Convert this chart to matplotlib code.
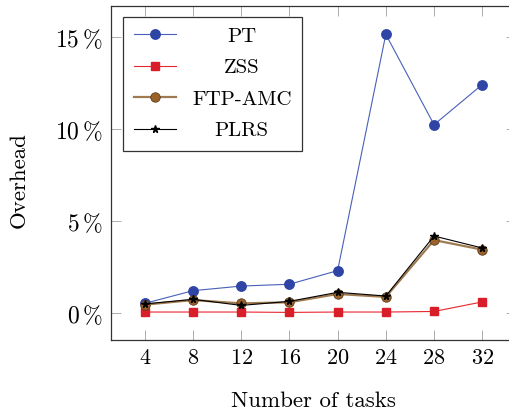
import numpy as np
import matplotlib
matplotlib.use("Agg")
import matplotlib.pyplot as plt
from matplotlib.ticker import FixedLocator, FixedFormatter

plt.rcParams.update({
    "font.family": "cmr10",
    "mathtext.fontset": "cm",
    "axes.formatter.use_mathtext": True,
    "font.size": 16,
})

# ── Data ───────────────────────────────────────────────────────
tasks = [4, 8, 12, 16, 20, 24, 28, 32]
pt = [0.54, 1.23, 1.48, 1.58, 2.32, 15.16, 10.25, 12.43]
zss = [0.07, 0.07, 0.07, 0.05, 0.07, 0.07, 0.10, 0.62]
ftp_amc = [0.47, 0.72, 0.54, 0.60, 1.05, 0.89, 3.98, 3.46]
plrs = [0.51, 0.76, 0.43, 0.65, 1.14, 0.94, 4.20, 3.55]
y_ticks = [0, 5, 10, 15]
y_tick_labels = [r"$0\,\%$", r"$5\,\%$", r"$10\,\%$", r"$15\,\%$"]

fig = plt.figure(figsize=(5.10, 4.11), dpi=100)
ax = fig.add_axes([111 / 510, 1 - 340 / 411, (516 - 111) / 510, (340 - 6) / 411])

ax.plot(tasks, pt, color="#4860b8", lw=0.8, marker="o", ms=6.8,
        mfc="#2f45a6", mec="#2f45a6", label="PT")
ax.plot(tasks, zss, color="#e8262e", lw=0.8, marker="s", ms=6.0,
        mfc="#d81e28", mec="#d81e28", label="ZSS")
ax.plot(tasks, ftp_amc, color="#a07a50", lw=1.6, marker="o", ms=6.8,
        mfc="#9a6228", mec="#5a3a1a", mew=0.6, label="FTP-AMC")
ax.plot(tasks, plrs, color="black", lw=0.8, marker="*", ms=5.5,
        mfc="black", mec="black", label="PLRS")

ax.set_xlim(1.2, 34.8)
ax.set_ylim(-1.45, 16.7)
ax.xaxis.set_major_locator(FixedLocator(tasks))
ax.yaxis.set_major_locator(FixedLocator(y_ticks))
ax.yaxis.set_major_formatter(FixedFormatter(y_tick_labels))
ax.tick_params(direction="in", length=7, width=0.6, color="#a0a0a0",
               top=True, right=True, labelsize=16, pad=6)
ax.tick_params(axis="y", labelsize=17)
for s in ax.spines.values():
    s.set_linewidth(0.9)
    s.set_color("#333333")

ax.set_xlabel("Number of tasks", fontsize=16.5, labelpad=17)
ax.set_ylabel("Overhead", fontsize=16.5)
ax.yaxis.set_label_coords(-0.203, 0.48)

leg = ax.legend(loc="upper left", bbox_to_anchor=(0.03, 0.968), fancybox=False,
                framealpha=1, edgecolor="#333333", handlelength=2.05,
                labelspacing=0.62, borderpad=0.5, handletextpad=0.75,
                borderaxespad=0, fontsize=15)
leg.get_frame().set_linewidth(0.9)

# centre the legend labels like pgfplots does
fig.canvas.draw()
renderer = fig.canvas.get_renderer()
texts = leg.get_texts()
widths = [t.get_window_extent(renderer).width for t in texts]
maxw = max(widths)
for t, w in zip(texts, widths):
    t.set_position(((maxw - w) / 2, 0))

fig.savefig("out.png", dpi=100)
